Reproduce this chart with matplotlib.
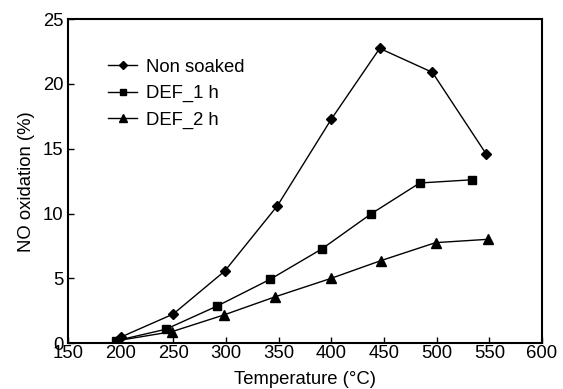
import matplotlib
matplotlib.use("Agg")
import matplotlib.pyplot as plt

plt.rcParams['font.family'] = ['Liberation Sans', 'DejaVu Sans']

temp_non = [201, 250, 299, 349, 400, 446, 496, 547]
non_soaked = [0.5, 2.25, 5.57, 10.61, 17.27, 22.74, 20.89, 14.6]

temp_def1 = [196, 243, 292, 342, 391, 438, 484, 534]
def_1h = [0.2, 1.08, 2.88, 4.93, 7.27, 9.99, 12.36, 12.61]

temp_def2 = [197, 249, 298, 347, 400, 447, 499, 549]
def_2h = [0.2, 0.9, 2.18, 3.59, 5.01, 6.37, 7.76, 8.02]

xticks = [150, 200, 250, 300, 350, 400, 450, 500, 550, 600]
yticks = [0, 5, 10, 15, 20, 25]

FS = 13.3

fig = plt.figure(figsize=(5.63, 3.89), dpi=100)
ax = fig.add_axes([0.1203, 0.1175, 0.8424, 0.8335])

ax.plot(temp_non, non_soaked, color='black', lw=1, marker='D', ms=5.5, label='Non soaked')
ax.plot(temp_def1, def_1h, color='black', lw=1, marker='s', ms=6, label='DEF_1 h')
ax.plot(temp_def2, def_2h, color='black', lw=1, marker='^', ms=7, label='DEF_2 h')

ax.set_xlim(150, 600)
ax.set_ylim(0, 25)
ax.set_xticks(xticks)
ax.set_yticks(yticks)
ax.tick_params(direction='in', length=4, width=1, labelsize=FS, top=False, right=False)
ax.tick_params(axis='x', pad=1)
ax.tick_params(axis='y', pad=3)
for s in ax.spines.values():
    s.set_linewidth(1.5)
ax.set_xlabel('Temperature (°C)', fontsize=FS, labelpad=7)
ax.set_ylabel('NO oxidation (%)', fontsize=FS, labelpad=6)

leg = ax.legend(loc='upper left', bbox_to_anchor=(0.069, 0.9), frameon=False, fontsize=FS,
                borderaxespad=0, handlelength=1.6, handletextpad=0.45, labelspacing=0.5,
                markerscale=0.75)

fig.savefig('out.png', dpi=100)
